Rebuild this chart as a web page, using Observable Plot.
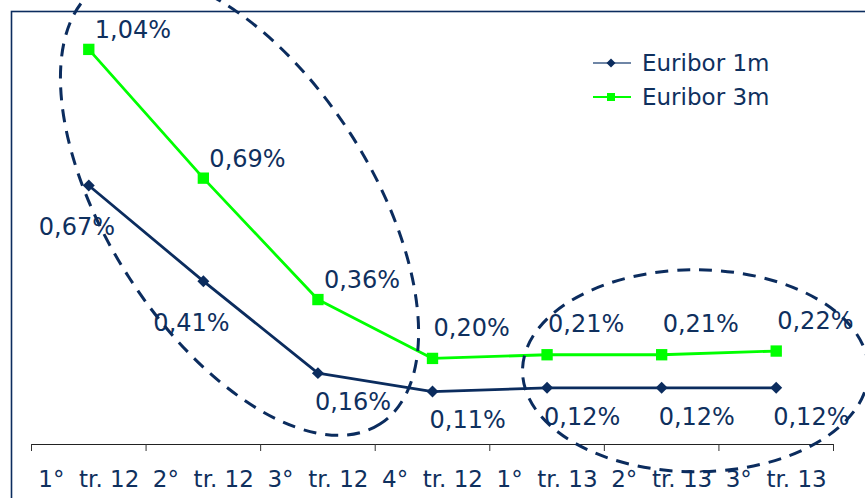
<!DOCTYPE html>
<html><head><meta charset="utf-8">
<script src="https://cdn.jsdelivr.net/npm/d3@7"></script>
<script src="https://cdn.jsdelivr.net/npm/@observablehq/plot@0.6"></script>
<style>
body{margin:0;background:#fff;}
#wrap{position:relative;width:865px;height:498px;overflow:hidden;font-family:"DejaVu Sans",sans-serif;}
#legend{position:absolute;left:593px;top:46px;color:#0f305e;font-size:23px;}
#legend .row{display:flex;align-items:center;height:34px;}
#legend svg{margin-right:11px;}
</style></head><body><div id="wrap"></div>
<script>
// ---- data ----
const categories = ["1°  tr. 12","2°  tr. 12","3°  tr. 12","4°  tr. 12","1°  tr. 13","2°  tr. 13","3°  tr. 13"];
const euribor1m = [0.67, 0.41, 0.16, 0.11, 0.12, 0.12, 0.12];
const euribor3m = [1.04, 0.69, 0.36, 0.20, 0.21, 0.21, 0.22];
const seriesNames = ["Euribor 1m", "Euribor 3m"];
// dashed highlight ellipses (centre in data units)
const highlights = [
  {cx: 1.32, cy: 0.615, rx: 260, ry: 132, angle: 57.3},
  {cx: 5.30, cy: 0.165, rx: 173, ry: 101, angle: 0}
];

const navy = "#0b2c5e";
const textColor = "#0f305e";
const green = "#00ff00";
const fmt = v => v.toFixed(2).replace(".", ",") + "%";

const rows1 = euribor1m.map((v, i) => ({i, v, s: seriesNames[0]}));
const rows3 = euribor3m.map((v, i) => ({i, v, s: seriesNames[1]}));
const n = categories.length;

function ellipseMark(index, scales) {
  const ns = "http://www.w3.org/2000/svg";
  const g = document.createElementNS(ns, "g");
  for (const e of highlights) {
    const el = document.createElementNS(ns, "ellipse");
    el.setAttribute("transform", `translate(${scales.x(e.cx)},${scales.y(e.cy)}) rotate(${e.angle})`);
    el.setAttribute("rx", e.rx);
    el.setAttribute("ry", e.ry);
    el.setAttribute("fill", "none");
    el.setAttribute("stroke", navy);
    el.setAttribute("stroke-width", 3);
    el.setAttribute("stroke-dasharray", "13 9");
    g.appendChild(el);
  }
  return g;
}

const font = {fontSize: 24, fill: textColor, fontFamily: "DejaVu Sans"};

const chart = Plot.plot({
  width: 865,
  height: 498,
  marginTop: 11,
  marginBottom: 54,
  marginLeft: 31,
  marginRight: 32,
  style: {overflow: "hidden", fontFamily: "DejaVu Sans", background: "#fff"},
  x: {type: "linear", domain: [-0.5, n - 0.5], label: null, axis: null},
  y: {domain: [-0.034, 1.143], axis: null, label: null},
  marks: [
    Plot.frame({stroke: navy, strokeWidth: 1.6, insetLeft: -20, insetRight: -60, insetBottom: -80}),
    Plot.ruleY([-0.034], {stroke: "#222", strokeWidth: 1}),
    Plot.axisX({ticks: d3.range(-0.5, n, 1), tickFormat: () => "", tickSize: 7, stroke: "#333", label: null}),
    Plot.axisX({ticks: d3.range(n), tickFormat: i => categories[i], tickSize: 0, tickPadding: 26,
      fontSize: 23, fill: textColor, fontFamily: "DejaVu Sans", label: null}),
    Plot.line(rows1, {x: "i", y: "v", stroke: navy, strokeWidth: 2.8}),
    Plot.line(rows3, {x: "i", y: "v", stroke: green, strokeWidth: 2.8}),
    Plot.dot(rows1, {x: "i", y: "v", symbol: "diamond2", r: 5.4, fill: navy, stroke: "none"}),
    Plot.dot(rows3, {x: "i", y: "v", symbol: "square", r: 6.4, fill: green, stroke: "none"}),
    Plot.text(rows3.filter(d => d.i < 3), {x: "i", y: "v", text: d => fmt(d.v), textAnchor: "start", dx: 6, dy: -19, ...font}),
    Plot.text(rows3.filter(d => d.i >= 3), {x: "i", y: "v", text: d => fmt(d.v), textAnchor: "start", dx: 1, dy: -30, ...font}),
    Plot.text(rows1.filter(d => d.i < 2), {x: "i", y: "v", text: d => fmt(d.v), textAnchor: "start", dx: -50, dy: 42, ...font}),
    Plot.text(rows1.filter(d => d.i >= 2), {x: "i", y: "v", text: d => fmt(d.v), textAnchor: "start", dx: -3, dy: 29, ...font}),
    ellipseMark
  ]
});

const wrap = document.getElementById("wrap");
wrap.appendChild(chart);

// legend (HTML overlay)
const legend = document.createElement("div");
legend.id = "legend";
const sw = [
  `<svg width="38" height="14"><line x1="0" y1="7" x2="38" y2="7" stroke="#6f86a6" stroke-width="2"/><path d="M18,2.5L22.5,7L18,11.5L13.5,7Z" fill="${navy}"/></svg>`,
  `<svg width="38" height="14"><line x1="0" y1="7" x2="38" y2="7" stroke="${green}" stroke-width="2"/><rect x="14" y="3" width="8" height="8" fill="${green}"/></svg>`
];
legend.innerHTML = seriesNames.map((s, k) => `<div class="row">${sw[k]}<span>${s}</span></div>`).join("");
wrap.appendChild(legend);
</script>
</body></html>
